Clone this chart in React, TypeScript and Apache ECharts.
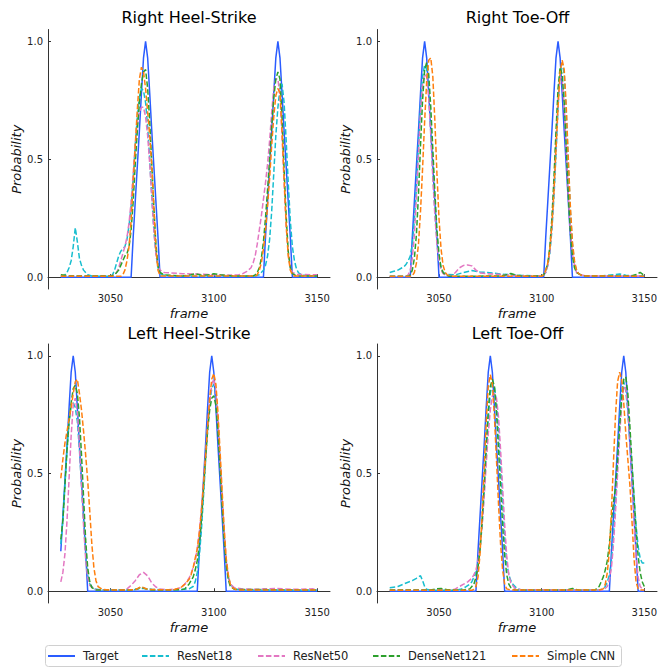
import React, { useEffect, useRef } from "react";
import * as echarts from "echarts";

// ---------- categories / ticks ----------
const panelTitles = ["Right Heel-Strike", "Right Toe-Off", "Left Heel-Strike", "Left Toe-Off"];
const seriesNames = ["Target", "ResNet18", "ResNet50", "DenseNet121", "Simple CNN"];
const xTickValues = [3050, 3100, 3150];
const yTickValues = [0, 0.5, 1];
const xLimits = [3019.8, 3156.2];
const yLimits = [-0.05, 1.05];

// ---------- data: [frame, probability] ----------
// Right Heel-Strike
const rhsTarget = [[3026,0],[3060,0],[3061,0.17],[3062,0.32],[3063,0.47],[3064,0.62],[3065,0.78],[3066,0.93],[3067,1],[3068,0.93],[3069,0.78],[3070,0.62],[3071,0.47],[3072,0.32],[3073,0.17],[3074,0],[3124,0],[3125,0.17],[3126,0.32],[3127,0.47],[3128,0.62],[3129,0.78],[3130,0.93],[3131,1],[3132,0.93],[3133,0.78],[3134,0.62],[3135,0.47],[3136,0.32],[3137,0.17],[3138,0],[3150,0]];
const rhsResNet18 = [[3026,0.003],[3027,0.005],[3028,0.01],[3029,0.02],[3030,0.04],[3031,0.07],[3032,0.13],[3033,0.21],[3034,0.15],[3035,0.08],[3036,0.05],[3037,0.03],[3038,0.02],[3039,0.01],[3041,0.005],[3050,0.004],[3051,0.01],[3052,0.03],[3053,0.06],[3054,0.09],[3055,0.11],[3056,0.12],[3057,0.13],[3058,0.16],[3059,0.22],[3060,0.3],[3061,0.42],[3062,0.56],[3063,0.68],[3064,0.76],[3065,0.8],[3066,0.79],[3067,0.74],[3068,0.64],[3069,0.5],[3070,0.34],[3071,0.2],[3072,0.1],[3073,0.04],[3074,0.02],[3075,0.01],[3080,0.005],[3100,0.004],[3120,0.005],[3122,0.01],[3124,0.03],[3125,0.05],[3126,0.09],[3127,0.16],[3128,0.28],[3129,0.44],[3130,0.6],[3131,0.72],[3132,0.8],[3133,0.82],[3134,0.74],[3135,0.58],[3136,0.4],[3137,0.24],[3138,0.13],[3139,0.07],[3140,0.035],[3141,0.018],[3143,0.008],[3150,0.005]];
const rhsResNet50 = [[3026,0.005],[3050,0.005],[3052,0.01],[3053,0.02],[3054,0.04],[3055,0.07],[3056,0.1],[3057,0.13],[3058,0.17],[3059,0.23],[3060,0.32],[3061,0.44],[3062,0.56],[3063,0.65],[3064,0.7],[3065,0.72],[3066,0.72],[3067,0.68],[3068,0.6],[3069,0.48],[3070,0.34],[3071,0.2],[3072,0.1],[3073,0.05],[3074,0.03],[3076,0.02],[3085,0.015],[3095,0.012],[3105,0.008],[3112,0.01],[3114,0.015],[3116,0.025],[3118,0.04],[3119,0.06],[3120,0.09],[3121,0.14],[3122,0.2],[3123,0.26],[3124,0.33],[3125,0.4],[3126,0.48],[3127,0.58],[3128,0.7],[3129,0.8],[3130,0.84],[3131,0.84],[3132,0.77],[3133,0.6],[3134,0.4],[3135,0.22],[3136,0.1],[3137,0.04],[3138,0.02],[3140,0.012],[3150,0.01]];
const rhsDenseNet121 = [[3026,0.01],[3028,0.008],[3030,0.005],[3050,0.005],[3052,0.01],[3053,0.02],[3054,0.03],[3055,0.05],[3056,0.07],[3057,0.09],[3058,0.1],[3059,0.13],[3060,0.2],[3061,0.32],[3062,0.48],[3063,0.62],[3064,0.74],[3065,0.82],[3066,0.87],[3067,0.88],[3068,0.8],[3069,0.66],[3070,0.48],[3071,0.3],[3072,0.14],[3073,0.05],[3074,0.02],[3076,0.01],[3085,0.005],[3089,0.01],[3091,0.015],[3094,0.008],[3098,0.01],[3100,0.015],[3103,0.01],[3110,0.005],[3119,0.005],[3120,0.01],[3121,0.02],[3122,0.04],[3123,0.08],[3124,0.15],[3125,0.25],[3126,0.37],[3127,0.5],[3128,0.64],[3129,0.76],[3130,0.84],[3131,0.87],[3132,0.84],[3133,0.68],[3134,0.46],[3135,0.26],[3136,0.11],[3137,0.04],[3138,0.015],[3140,0.005],[3150,0.005]];
const rhsSimpleCNN = [[3026,0.004],[3055,0.004],[3056,0.01],[3057,0.03],[3058,0.07],[3059,0.13],[3060,0.24],[3061,0.4],[3062,0.56],[3063,0.71],[3064,0.84],[3065,0.89],[3066,0.87],[3067,0.8],[3068,0.7],[3069,0.6],[3070,0.47],[3071,0.3],[3072,0.12],[3073,0.03],[3074,0.005],[3120,0.005],[3121,0.01],[3122,0.03],[3123,0.06],[3124,0.12],[3125,0.2],[3126,0.3],[3127,0.42],[3128,0.56],[3129,0.68],[3130,0.77],[3131,0.8],[3132,0.78],[3133,0.62],[3134,0.42],[3135,0.22],[3136,0.09],[3137,0.03],[3138,0.01],[3139,0.005],[3150,0.005]];

// Right Toe-Off
const rtoTarget = [[3026,0],[3036,0],[3037,0.17],[3038,0.32],[3039,0.47],[3040,0.62],[3041,0.78],[3042,0.93],[3043,1],[3044,0.93],[3045,0.78],[3046,0.62],[3047,0.47],[3048,0.32],[3049,0.17],[3050,0],[3101,0],[3102,0.17],[3103,0.32],[3104,0.47],[3105,0.62],[3106,0.78],[3107,0.93],[3108,1],[3109,0.93],[3110,0.78],[3111,0.62],[3112,0.47],[3113,0.32],[3114,0.17],[3115,0],[3150,0]];
const rtoResNet18 = [[3026,0.02],[3028,0.025],[3030,0.03],[3032,0.04],[3033,0.045],[3034,0.055],[3035,0.07],[3036,0.09],[3037,0.14],[3038,0.24],[3039,0.38],[3040,0.56],[3041,0.73],[3042,0.85],[3043,0.9],[3044,0.88],[3045,0.78],[3046,0.62],[3047,0.44],[3048,0.28],[3049,0.16],[3050,0.08],[3051,0.04],[3052,0.02],[3054,0.012],[3058,0.01],[3062,0.02],[3066,0.028],[3070,0.022],[3076,0.018],[3082,0.012],[3090,0.008],[3100,0.005],[3101,0.01],[3102,0.02],[3103,0.05],[3104,0.1],[3105,0.2],[3106,0.34],[3107,0.52],[3108,0.72],[3109,0.87],[3110,0.91],[3111,0.86],[3112,0.7],[3113,0.48],[3114,0.28],[3115,0.14],[3116,0.06],[3117,0.03],[3118,0.015],[3120,0.006],[3130,0.006],[3135,0.01],[3138,0.014],[3141,0.008],[3150,0.006]];
const rtoResNet50 = [[3026,0.004],[3034,0.004],[3035,0.01],[3036,0.03],[3037,0.08],[3038,0.18],[3039,0.34],[3040,0.52],[3041,0.7],[3042,0.82],[3043,0.86],[3044,0.85],[3045,0.76],[3046,0.6],[3047,0.42],[3048,0.26],[3049,0.14],[3050,0.07],[3051,0.03],[3052,0.015],[3054,0.006],[3056,0.005],[3058,0.02],[3060,0.04],[3062,0.05],[3064,0.052],[3066,0.048],[3068,0.03],[3070,0.018],[3075,0.014],[3082,0.01],[3090,0.006],[3100,0.005],[3101,0.01],[3102,0.02],[3103,0.05],[3104,0.11],[3105,0.22],[3106,0.38],[3107,0.58],[3108,0.76],[3109,0.85],[3110,0.84],[3111,0.72],[3112,0.54],[3113,0.35],[3114,0.2],[3115,0.1],[3116,0.05],[3117,0.02],[3119,0.01],[3122,0.005],[3150,0.005]];
const rtoDenseNet121 = [[3026,0.004],[3035,0.004],[3036,0.01],[3037,0.03],[3038,0.08],[3039,0.18],[3040,0.35],[3041,0.56],[3042,0.75],[3043,0.88],[3044,0.91],[3045,0.86],[3046,0.72],[3047,0.54],[3048,0.36],[3049,0.2],[3050,0.1],[3051,0.04],[3052,0.02],[3053,0.01],[3055,0.004],[3080,0.005],[3083,0.01],[3085,0.016],[3087,0.01],[3090,0.005],[3100,0.005],[3101,0.01],[3102,0.03],[3103,0.06],[3104,0.13],[3105,0.25],[3106,0.42],[3107,0.62],[3108,0.8],[3109,0.89],[3110,0.86],[3111,0.74],[3112,0.55],[3113,0.35],[3114,0.19],[3115,0.09],[3116,0.04],[3117,0.02],[3119,0.01],[3121,0.005],[3144,0.005],[3146,0.012],[3148,0.02],[3150,0.008]];
const rtoSimpleCNN = [[3026,0.003],[3036,0.003],[3037,0.006],[3038,0.02],[3039,0.06],[3040,0.14],[3041,0.28],[3042,0.46],[3043,0.66],[3044,0.83],[3045,0.92],[3046,0.93],[3047,0.85],[3048,0.66],[3049,0.44],[3050,0.25],[3051,0.12],[3052,0.05],[3053,0.02],[3054,0.01],[3056,0.004],[3100,0.004],[3101,0.01],[3102,0.03],[3103,0.06],[3104,0.12],[3105,0.22],[3106,0.36],[3107,0.54],[3108,0.72],[3109,0.87],[3110,0.92],[3111,0.88],[3112,0.72],[3113,0.5],[3114,0.3],[3115,0.15],[3116,0.07],[3117,0.03],[3118,0.015],[3120,0.005],[3150,0.004]];

// Left Heel-Strike
const lhsTarget = [[3026,0.17],[3027,0.32],[3028,0.47],[3029,0.62],[3030,0.78],[3031,0.93],[3032,1],[3033,0.93],[3034,0.78],[3035,0.62],[3036,0.47],[3037,0.32],[3038,0.17],[3039,0],[3092,0],[3093,0.17],[3094,0.32],[3095,0.47],[3096,0.62],[3097,0.78],[3098,0.93],[3099,1],[3100,0.93],[3101,0.78],[3102,0.62],[3103,0.47],[3104,0.32],[3105,0.17],[3106,0],[3150,0]];
const lhsResNet18 = [[3026,0.2],[3027,0.3],[3028,0.45],[3029,0.6],[3030,0.72],[3031,0.79],[3032,0.8],[3033,0.78],[3034,0.72],[3035,0.6],[3036,0.45],[3037,0.3],[3038,0.16],[3039,0.07],[3040,0.03],[3042,0.01],[3046,0.005],[3060,0.005],[3064,0.01],[3066,0.012],[3070,0.008],[3080,0.005],[3088,0.01],[3090,0.02],[3091,0.04],[3092,0.08],[3093,0.15],[3094,0.26],[3095,0.4],[3096,0.55],[3097,0.69],[3098,0.8],[3099,0.86],[3100,0.88],[3101,0.84],[3102,0.72],[3103,0.56],[3104,0.39],[3105,0.24],[3106,0.12],[3107,0.06],[3108,0.03],[3110,0.01],[3115,0.005],[3150,0.005]];
const lhsResNet50 = [[3026,0.04],[3027,0.08],[3028,0.16],[3029,0.3],[3030,0.48],[3031,0.66],[3032,0.79],[3033,0.82],[3034,0.76],[3035,0.62],[3036,0.45],[3037,0.28],[3038,0.14],[3039,0.06],[3040,0.025],[3042,0.01],[3044,0.005],[3056,0.005],[3058,0.01],[3060,0.025],[3062,0.045],[3064,0.07],[3066,0.08],[3068,0.065],[3070,0.035],[3072,0.018],[3074,0.01],[3078,0.006],[3082,0.01],[3084,0.015],[3086,0.03],[3088,0.055],[3089,0.075],[3090,0.1],[3091,0.13],[3092,0.18],[3093,0.25],[3094,0.35],[3095,0.46],[3096,0.58],[3097,0.7],[3098,0.8],[3099,0.88],[3100,0.9],[3101,0.85],[3102,0.72],[3103,0.56],[3104,0.4],[3105,0.25],[3106,0.13],[3107,0.06],[3108,0.03],[3110,0.015],[3114,0.01],[3120,0.008],[3130,0.012],[3133,0.01],[3140,0.008],[3148,0.01],[3150,0.008]];
const lhsDenseNet121 = [[3026,0.22],[3027,0.3],[3028,0.45],[3029,0.6],[3030,0.72],[3031,0.8],[3032,0.86],[3033,0.875],[3034,0.84],[3035,0.74],[3036,0.58],[3037,0.4],[3038,0.22],[3039,0.1],[3040,0.04],[3041,0.015],[3043,0.005],[3060,0.005],[3063,0.01],[3065,0.018],[3067,0.01],[3070,0.005],[3084,0.006],[3086,0.01],[3088,0.03],[3090,0.06],[3091,0.09],[3092,0.13],[3093,0.2],[3094,0.3],[3095,0.43],[3096,0.56],[3097,0.68],[3098,0.77],[3099,0.82],[3100,0.83],[3101,0.79],[3102,0.68],[3103,0.53],[3104,0.37],[3105,0.22],[3106,0.11],[3107,0.05],[3108,0.02],[3110,0.008],[3150,0.005]];
const lhsSimpleCNN = [[3026,0.48],[3027,0.56],[3028,0.63],[3029,0.68],[3030,0.73],[3031,0.78],[3032,0.84],[3033,0.89],[3034,0.9],[3035,0.84],[3036,0.77],[3037,0.68],[3038,0.58],[3039,0.47],[3040,0.34],[3041,0.2],[3042,0.1],[3043,0.045],[3044,0.02],[3046,0.008],[3050,0.005],[3062,0.006],[3064,0.015],[3065,0.02],[3066,0.015],[3068,0.008],[3080,0.005],[3084,0.015],[3086,0.03],[3088,0.05],[3089,0.07],[3090,0.1],[3091,0.14],[3092,0.18],[3093,0.25],[3094,0.34],[3095,0.45],[3096,0.57],[3097,0.7],[3098,0.82],[3099,0.9],[3100,0.925],[3101,0.88],[3102,0.76],[3103,0.6],[3104,0.43],[3105,0.27],[3106,0.14],[3107,0.07],[3108,0.03],[3109,0.015],[3111,0.005],[3150,0.005]];

// Left Toe-Off
const ltoTarget = [[3026,0],[3068,0],[3069,0.17],[3070,0.32],[3071,0.47],[3072,0.62],[3073,0.78],[3074,0.93],[3075,1],[3076,0.93],[3077,0.78],[3078,0.62],[3079,0.47],[3080,0.32],[3081,0.17],[3082,0],[3133,0],[3134,0.17],[3135,0.32],[3136,0.47],[3137,0.62],[3138,0.78],[3139,0.93],[3140,1],[3141,0.93],[3142,0.78],[3143,0.62],[3144,0.47],[3145,0.32],[3146,0.17],[3147,0],[3150,0]];
const ltoResNet18 = [[3026,0.015],[3030,0.02],[3034,0.035],[3037,0.045],[3039,0.055],[3041,0.066],[3042,0.045],[3043,0.02],[3044,0.008],[3046,0.004],[3058,0.004],[3061,0.01],[3063,0.018],[3065,0.03],[3066,0.04],[3067,0.06],[3068,0.08],[3069,0.12],[3070,0.18],[3071,0.28],[3072,0.42],[3073,0.58],[3074,0.73],[3075,0.84],[3076,0.88],[3077,0.87],[3078,0.8],[3079,0.68],[3080,0.54],[3081,0.38],[3082,0.23],[3083,0.12],[3084,0.07],[3085,0.045],[3086,0.03],[3088,0.012],[3090,0.005],[3128,0.005],[3130,0.01],[3131,0.02],[3132,0.04],[3133,0.07],[3134,0.13],[3135,0.24],[3136,0.38],[3137,0.55],[3138,0.72],[3139,0.85],[3140,0.89],[3141,0.85],[3142,0.76],[3143,0.65],[3144,0.53],[3145,0.4],[3146,0.28],[3147,0.19],[3148,0.14],[3149,0.12],[3150,0.12]];
const ltoResNet50 = [[3026,0.005],[3056,0.005],[3058,0.01],[3060,0.02],[3062,0.03],[3064,0.04],[3066,0.055],[3067,0.07],[3068,0.09],[3069,0.13],[3070,0.19],[3071,0.28],[3072,0.4],[3073,0.54],[3074,0.67],[3075,0.77],[3076,0.83],[3077,0.84],[3078,0.82],[3079,0.74],[3080,0.6],[3081,0.44],[3082,0.28],[3083,0.15],[3084,0.07],[3085,0.035],[3087,0.012],[3090,0.006],[3130,0.005],[3132,0.02],[3133,0.05],[3134,0.1],[3135,0.2],[3136,0.34],[3137,0.5],[3138,0.66],[3139,0.8],[3140,0.87],[3141,0.86],[3142,0.78],[3143,0.64],[3144,0.48],[3145,0.3],[3146,0.15],[3147,0.06],[3148,0.02],[3149,0.01],[3150,0.005]];
const ltoDenseNet121 = [[3026,0.005],[3046,0.005],[3049,0.01],[3051,0.012],[3054,0.006],[3062,0.005],[3065,0.01],[3066,0.02],[3067,0.03],[3068,0.06],[3069,0.1],[3070,0.18],[3071,0.3],[3072,0.45],[3073,0.62],[3074,0.77],[3075,0.87],[3076,0.9],[3077,0.87],[3078,0.76],[3079,0.6],[3080,0.44],[3081,0.28],[3082,0.15],[3083,0.07],[3084,0.03],[3085,0.015],[3087,0.005],[3112,0.005],[3115,0.012],[3118,0.005],[3126,0.005],[3128,0.02],[3129,0.04],[3130,0.06],[3131,0.09],[3132,0.13],[3133,0.2],[3134,0.3],[3135,0.38],[3136,0.44],[3137,0.56],[3138,0.7],[3139,0.82],[3140,0.9],[3141,0.91],[3142,0.84],[3143,0.7],[3144,0.55],[3145,0.4],[3146,0.26],[3147,0.15],[3148,0.08],[3149,0.04],[3150,0.02]];
const ltoSimpleCNN = [[3026,0.004],[3066,0.004],[3067,0.008],[3068,0.02],[3069,0.06],[3070,0.16],[3071,0.32],[3072,0.52],[3073,0.72],[3074,0.87],[3075,0.92],[3076,0.88],[3077,0.74],[3078,0.56],[3079,0.37],[3080,0.2],[3081,0.09],[3082,0.03],[3083,0.01],[3085,0.005],[3128,0.005],[3130,0.01],[3131,0.03],[3132,0.08],[3133,0.17],[3134,0.34],[3135,0.55],[3136,0.75],[3137,0.89],[3138,0.93],[3139,0.9],[3140,0.8],[3141,0.67],[3142,0.56],[3143,0.45],[3144,0.3],[3145,0.14],[3146,0.04],[3147,0.01],[3148,0.005],[3150,0.005]];

const panelData = [
  [rhsTarget, rhsResNet18, rhsResNet50, rhsDenseNet121, rhsSimpleCNN],
  [rtoTarget, rtoResNet18, rtoResNet50, rtoDenseNet121, rtoSimpleCNN],
  [lhsTarget, lhsResNet18, lhsResNet50, lhsDenseNet121, lhsSimpleCNN],
  [ltoTarget, ltoResNet18, ltoResNet50, ltoDenseNet121, ltoSimpleCNN],
];

// ---------- styling / layout ----------
const FONT = "DejaVu Sans";
const seriesColors = ["#2a5cff", "#17becf", "#e377c2", "#2ca02c", "#ff7f0e"];
const DASH = [5.5, 2.4];
const gridBoxes = [
  { left: 48, top: 29.5, width: 282, height: 259.5 },
  { left: 377, top: 29.5, width: 281, height: 259.5 },
  { left: 48, top: 344, width: 282, height: 259 },
  { left: 377, top: 344, width: 281, height: 259 },
];
const titleTops = [9, 9, 325, 325];
const legendLefts = [47, 141, 257, 372, 511];
const AXIS_COLOR = "#333";

export default function App() {
  const ref = useRef<HTMLDivElement>(null);

  useEffect(() => {
    if (!ref.current) return;
    const chart = echarts.init(ref.current, null, { renderer: "svg" });

    const grid = gridBoxes.map((g) => ({ ...g, containLabel: false }));

    const title = panelTitles.map((t, i) => ({
      text: t,
      left: gridBoxes[i].left + gridBoxes[i].width / 2,
      top: titleTops[i],
      textAlign: "center",
      padding: 0,
      textStyle: { fontFamily: FONT, fontSize: 16, fontWeight: "normal", color: "#000" },
    }));

    const xAxis = gridBoxes.map((_, i) => ({
      type: "value",
      gridIndex: i,
      min: xLimits[0],
      max: xLimits[1],
      name: "frame",
      nameLocation: "middle",
      nameGap: 18,
      nameTextStyle: { fontFamily: FONT, fontSize: 13, fontStyle: "italic", color: "#111" },
      axisLine: { show: true, lineStyle: { color: AXIS_COLOR, width: 1 } },
      axisTick: { show: true, inside: true, length: 3, customValues: xTickValues, lineStyle: { color: AXIS_COLOR } },
      axisLabel: {
        customValues: xTickValues,
        formatter: (v: number) => String(Math.round(v)),
        fontFamily: FONT,
        fontSize: 10,
        color: "#222",
        margin: 4,
      },
      splitLine: { show: false },
    }));

    const yAxis = gridBoxes.map((_, i) => ({
      type: "value",
      gridIndex: i,
      min: yLimits[0],
      max: yLimits[1],
      name: "Probability",
      nameLocation: "middle",
      nameGap: 24,
      nameTextStyle: { fontFamily: FONT, fontSize: 13, fontStyle: "italic", color: "#111" },
      axisLine: { show: true, lineStyle: { color: AXIS_COLOR, width: 1 } },
      axisTick: { show: true, inside: true, length: 3, customValues: yTickValues, lineStyle: { color: AXIS_COLOR } },
      axisLabel: {
        customValues: yTickValues,
        formatter: (v: number) => v.toFixed(1),
        fontFamily: FONT,
        fontSize: 10,
        color: "#222",
        margin: 5,
      },
      splitLine: { show: false },
    }));

    const series: any[] = [];
    panelData.forEach((lines, p) => {
      lines.forEach((data, s) => {
        series.push({
          type: "line",
          name: seriesNames[s],
          xAxisIndex: p,
          yAxisIndex: p,
          data,
          symbol: "none",
          showSymbol: false,
          silent: true,
          z: 2 + s,
          lineStyle: { color: seriesColors[s], width: 1.5, type: s === 0 ? "solid" : DASH },
          itemStyle: { color: seriesColors[s] },
        });
      });
    });

    const legend = seriesNames.map((n, i) => ({
      data: [n],
      left: legendLefts[i],
      top: 650,
      padding: 0,
      itemWidth: 27,
      itemHeight: 12,
      itemGap: 0,
      selectedMode: false,
      itemStyle: { color: "rgba(0,0,0,0)", borderWidth: 0, opacity: 0 },
      textStyle: { fontFamily: FONT, fontSize: 11.5, color: "#222", padding: [0, 0, 0, 3] },
    }));

    chart.setOption({
      animation: false,
      textStyle: { fontFamily: FONT },
      backgroundColor: "#fff",
      title,
      grid,
      xAxis,
      yAxis,
      series,
      legend,
      graphic: [
        {
          type: "rect",
          z: 0,
          shape: { x: 45.5, y: 645.5, width: 576, height: 21, r: 3 },
          style: { fill: "#fff", stroke: "#d0d0d0", lineWidth: 1 },
        },
      ],
    });

    return () => chart.dispose();
  }, []);

  return (
    <div
      ref={ref}
      style={{ position: "fixed", left: 0, top: 0, width: 660, height: 668 }}
    />
  );
}
